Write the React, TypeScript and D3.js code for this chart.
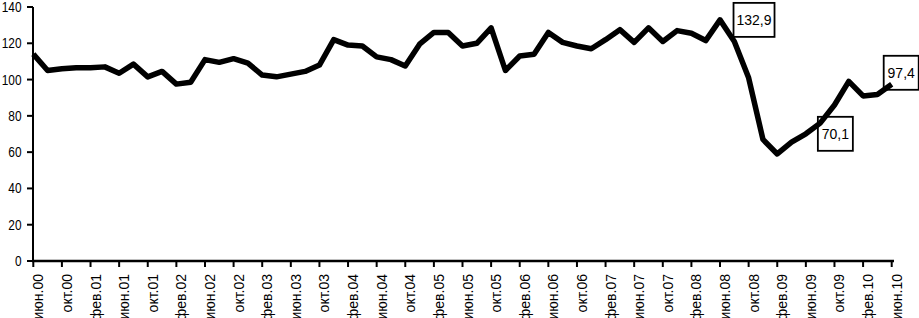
import React from "react";
import * as d3 from "d3";

const values: number[] = [
  114, 105, 106, 106.5, 106.5, 107, 103.5, 108.5, 101.5, 104.5,
  97.5, 98.5, 111, 109.5, 111.5, 109, 102.5, 101.5, 103, 104.5,
  108, 122, 119, 118.5, 112.5, 111, 107.5, 119.5, 126, 126,
  118.5, 120, 128.5, 105, 113, 114, 126, 120.5, 118.5, 117,
  122, 127.5, 120.5, 128.5, 121, 127, 125.5, 121.5, 132.9, 121,
  101, 67, 59, 65.5, 70.1, 76, 86, 99, 91, 91.8,
  97.4,
];

const tickLabels: string[] = [
  "июн.00", "окт.00", "фев.01", "июн.01", "окт.01", "фев.02", "июн.02", "окт.02",
  "фев.03", "июн.03", "окт.03", "фев.04", "июн.04", "окт.04", "фев.05", "июн.05",
  "окт.05", "фев.06", "июн.06", "окт.06", "фев.07", "июн.07", "окт.07", "фев.08",
  "июн.08", "окт.08", "фев.09", "июн.09", "окт.09", "фев.10", "июн.10",
];

const yTicks: number[] = [0, 20, 40, 60, 80, 100, 120, 140];

const annotationIndex: number[] = [48, 54, 60];
const annotationText: string[] = ["132,9", "70,1", "97,4"];

// layout of annotation boxes (styling, not data)
const boxLayout = [
  { dx: 13.5, dy: 0, w: 41 },
  { dx: 12, dy: 0, w: 35 },
  { dx: -8, dy: -11.5, w: 35 },
];

const W = 919;
const H = 318;
const FONT = "'Liberation Sans', Arial, sans-serif";

export default function App() {
  const x = d3
    .scaleLinear()
    .domain([0, values.length - 1])
    .range([33.3, 891.7]);
  const y = d3.scaleLinear().domain([0, 140]).range([261, 7]);

  const line = d3
    .line<number>()
    .x((_, i) => x(i))
    .y((d) => y(d));

  const tickIdx = tickLabels.map((_, i) => i * 2);

  return (
    <svg
      width={W}
      height={H}
      style={{ position: "fixed", left: 0, top: 0, background: "#fff" }}
      fontFamily={FONT}
    >
      <rect x={0} y={0} width={W} height={H} fill="#fff" />
      {/* annotation boxes (behind line) */}
      {annotationIndex.map((idx, k) => {
        const px = x(idx);
        const py = y(values[idx]);
        const b = boxLayout[k];
        return (
          <rect
            key={"b" + k}
            x={px + b.dx}
            y={py + b.dy - 17}
            width={b.w}
            height={34}
            fill="none"
            stroke="#000"
            strokeWidth={1.8}
          />
        );
      })}
      {/* y axis */}
      <line x1={33} x2={33} y1={y(140)} y2={y(0)} stroke="#000" strokeWidth={2} />
      {yTicks.map((t) => (
        <g key={"y" + t}>
          <line x1={27} x2={33} y1={y(t)} y2={y(t)} stroke="#000" strokeWidth={2} />
          <text
            x={21.5}
            y={y(t)}
            dy="0.36em"
            textAnchor="end"
            fontSize={14}
            textLength={String(t).length * 6.6}
            lengthAdjust="spacingAndGlyphs"
            fill="#000"
          >
            {t}
          </text>
        </g>
      ))}
      {/* x axis */}
      <line x1={32} x2={894} y1={261} y2={261} stroke="#000" strokeWidth={2.5} />
      {tickIdx.map((idx, k) => (
        <g key={"x" + k}>
          <line x1={x(idx)} x2={x(idx)} y1={261} y2={267} stroke="#000" strokeWidth={2} />
          <text
            transform={`translate(${x(idx) + 10},274) rotate(-90)`}
            textAnchor="end"
            fontSize={14}
            fill="#000"
          >
            {tickLabels[k]}
          </text>
        </g>
      ))}
      {/* series line */}
      <path
        d={line(values) || ""}
        fill="none"
        stroke="#000"
        strokeWidth={5.5}
        strokeLinejoin="round"
        strokeLinecap="butt"
      />
      {/* annotation texts */}
      {annotationIndex.map((idx, k) => {
        const px = x(idx);
        const py = y(values[idx]);
        const b = boxLayout[k];
        return (
          <text
            key={"t" + k}
            x={px + b.dx + b.w / 2}
            y={py + b.dy}
            dy="0.36em"
            textAnchor="middle"
            fontSize={14}
            fill="#000"
          >
            {annotationText[k]}
          </text>
        );
      })}
    </svg>
  );
}
